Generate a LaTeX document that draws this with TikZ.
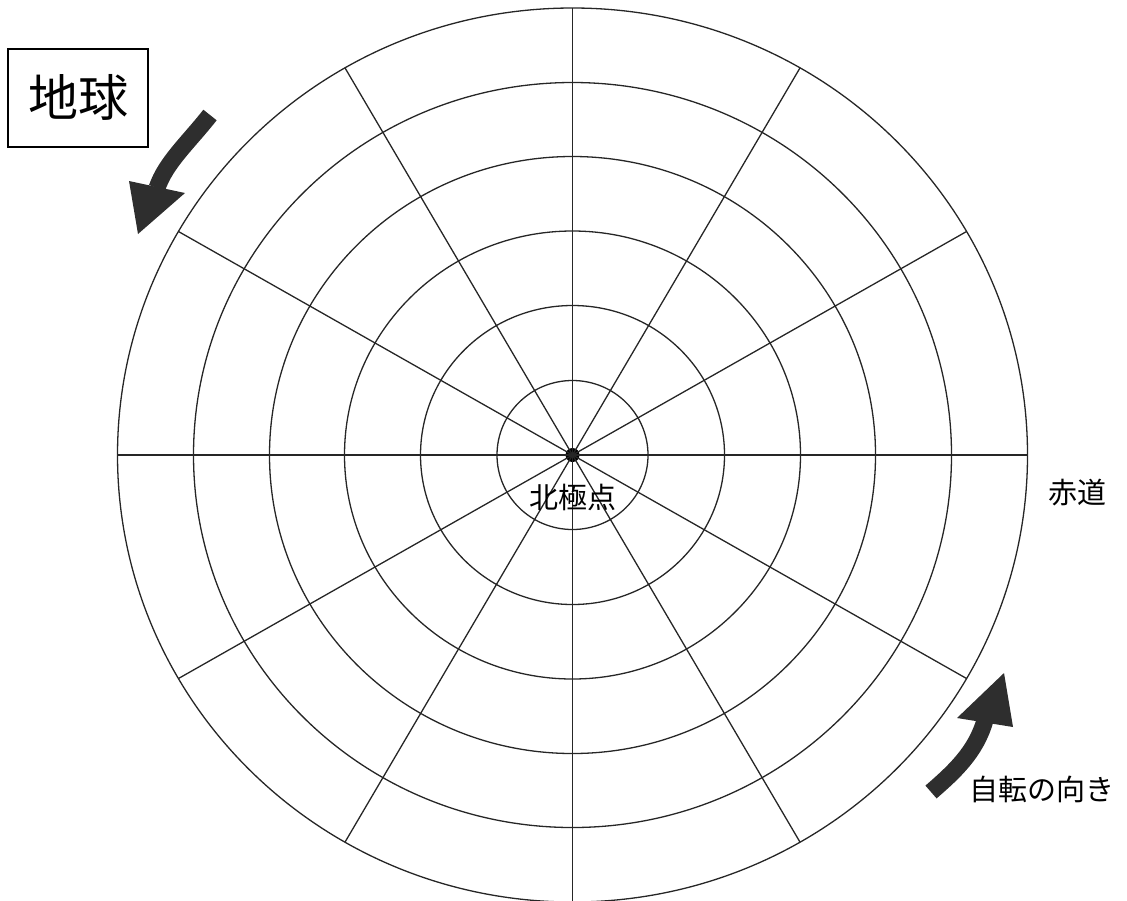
\documentclass[tikz,border=0pt]{standalone}
\usepackage{fontspec}
\newfontfamily\cjk{Noto Sans CJK JP}
\usetikzlibrary{positioning}

\begin{document}
\begin{tikzpicture}[
  x=0.5pt, y=-0.5pt,
  font=\cjk,
  grid/.style={line width=0.65pt, black!85},
  pole/.style={circle, fill=black, inner sep=0pt, minimum size=7pt},
  label/.style={font=\cjk\fontsize{14.5pt}{16pt}\selectfont, inner sep=0pt},
  titlebox/.style={draw, line width=1pt, minimum width=70pt, minimum height=49pt,
                   font=\cjk\fontsize{25pt}{28pt}\selectfont},
  shaft/.style={line width=8.5pt, black!82},
  head/.style={fill=black!82},
]
  \useasboundingbox (0,0) rectangle (1127,900);

  % the pole and the grid of latitude circles and meridians
  \node[pole] (pole) at (572.5,455) {};
  \foreach \ry/\rx in {74.5/75.5, 149.5/152, 224/228, 298.5/303, 372.5/379, 447/455}
    \draw[grid] (pole.center) ellipse [x radius=\rx, y radius=\ry];
  \foreach \a in {0,30,...,330}
    \draw[grid] (pole.center) -- ++({455*cos(\a)}, {447*sin(\a)});

  \node[label] (np) at (573,497) {北極点};
  \node[label, anchor=west] (eq) at (1048,493) {赤道};
  \node[label, anchor=west] (rot) at (969,789) {自転の向き};
  \node[titlebox] (earth) at (78,97.5) {地球};

  % rotation arrows
  \coordinate (tlTail) at (210,115);
  \coordinate (tlBase) at (157,188);
  \draw[shaft] (tlTail) .. controls (188,143) and (166,162) .. (tlBase);
  \fill[head] (129,181) -- (185,193) -- (138,234) -- cycle;

  \coordinate (brTail) at (931,792);
  \coordinate (brBase) at (985,720);
  \draw[shaft] (brTail) .. controls (954,772) and (976,752) .. (brBase);
  \fill[head] (957,718) -- (1013,727) -- (1004,673) -- cycle;
\end{tikzpicture}
\end{document}
